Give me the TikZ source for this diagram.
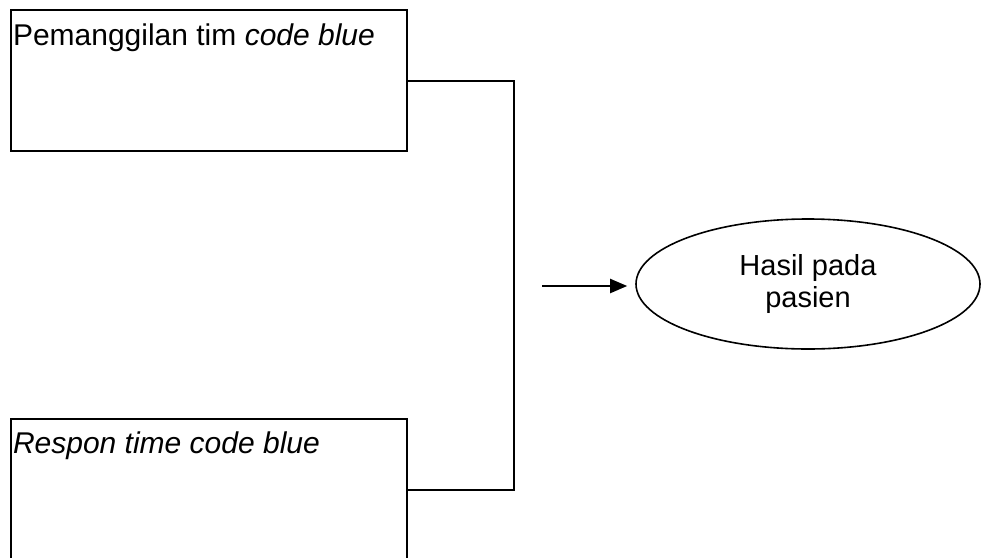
\documentclass[tikz,border=0pt]{standalone}
\usepackage{fontspec}
\setmainfont{Liberation Sans}
\usetikzlibrary{shapes.geometric,arrows.meta}
\begin{document}
\begin{tikzpicture}[x=1pt,y=-1pt,line width=2pt,
  box/.style={draw,rectangle,minimum width=396pt,minimum height=141pt,inner sep=0pt,anchor=north west},
  lbl/.style={anchor=base west,inner sep=0pt,font=\fontsize{30}{32}\selectfont},
  oval/.style={draw,ellipse,line width=1.6pt,minimum width=344pt,minimum height=130pt,inner sep=0pt,align=center,font=\fontsize{29}{32}\selectfont},
  conn/.style={line width=2pt},
  arr/.style={line width=2pt,-{Triangle[length=17pt,width=14pt]},shorten >=8pt}]
\useasboundingbox (0,0) rectangle (984,557);
\clip (0,0) rectangle (984,557);
\fill[white] (0,0) rectangle (984,557);
\node[box] (top) at (10,9) {};
\node[lbl] (t1) at (12,45) {Pemanggilan tim \textit{code blue}};
\node[box] (bot) at (10,418) {};
\node[lbl] (t2) at (12,453) {\textit{Respon time code blue}};
\node[oval] (hasil) at (808,284) {Hasil pada\\pasien};
\draw[conn] (top.east) -- ++(106,0) |- (bot.east);
\coordinate (as) at (542,286);
\draw[arr] (as) -- (as -| hasil.west);
\end{tikzpicture}
\end{document}
